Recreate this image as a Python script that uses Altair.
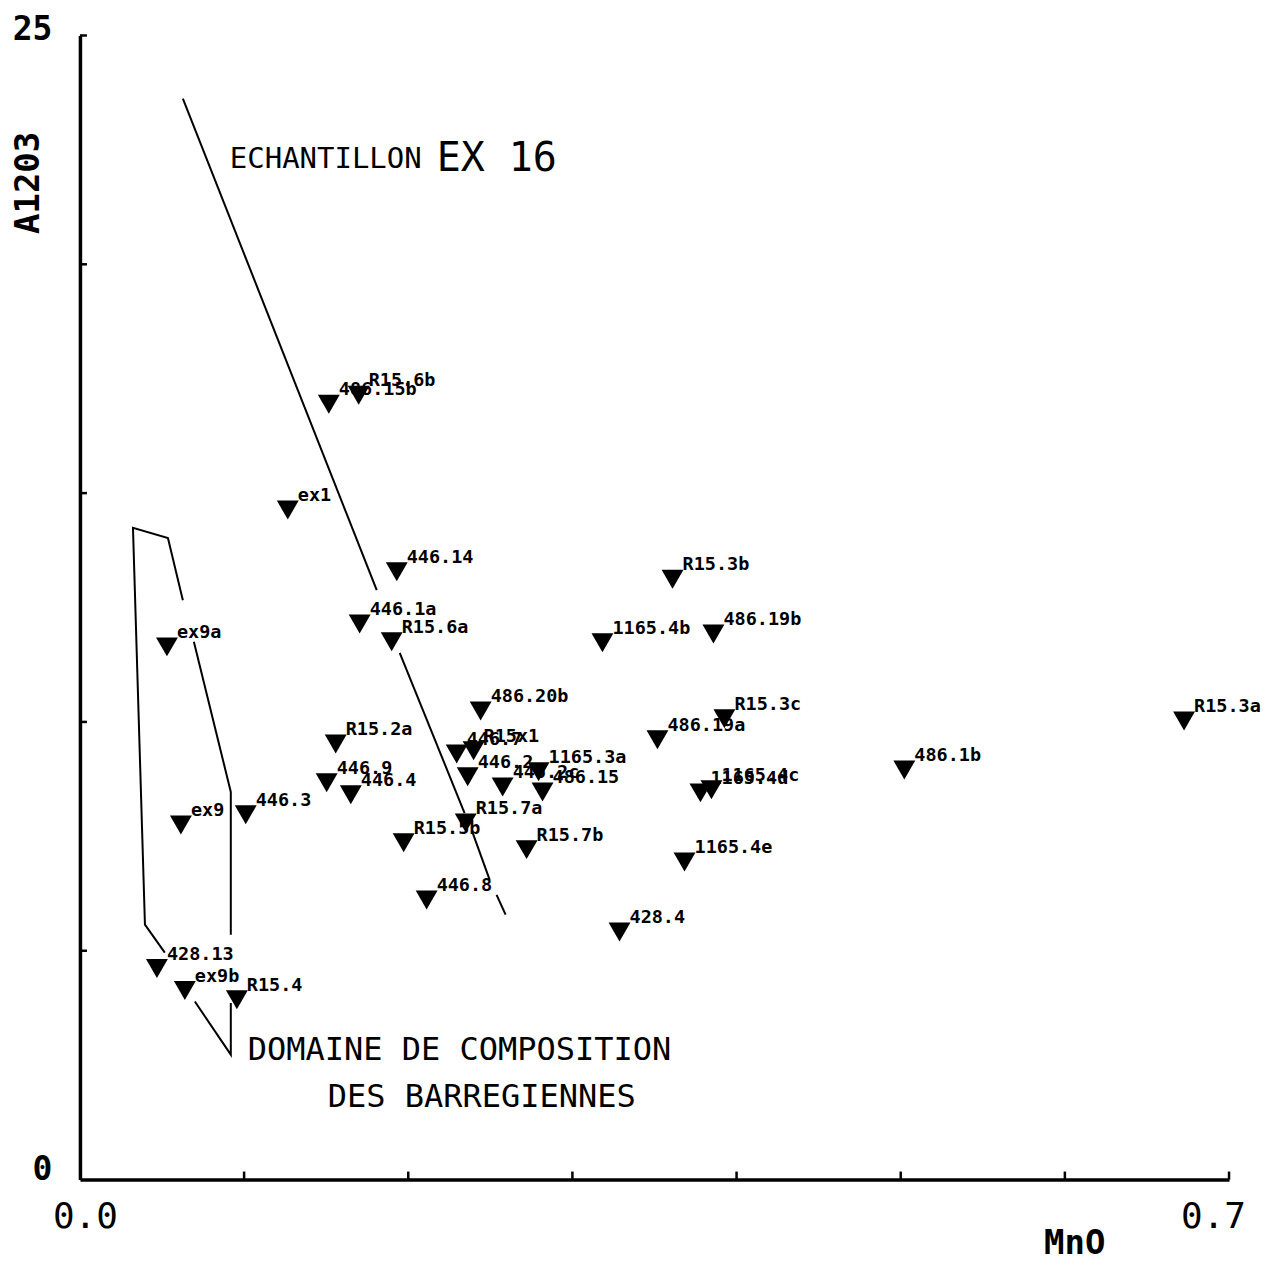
import altair as alt
import pandas as pd

# ---- sample points (MnO, Al2O3) ----
labels = ["486.15b", "R15.6b", "ex1", "446.14", "446.1a", "R15.6a", "ex9a", "ex9",
          "446.3", "R15.2a", "446.9", "446.4", "R15.5b", "446.8", "486.20b", "446.7",
          "R15x1", "446.2", "446.2c", "1165.3a", "486.15", "R15.7a", "R15.7b",
          "1165.4b", "R15.3b", "486.19b", "486.19a", "R15.3c", "1165.4d", "1165.4c",
          "1165.4e", "428.4", "486.1b", "R15.3a", "428.13", "ex9b", "R15.4"]
mno = [0.1516, 0.1698, 0.1266, 0.1930, 0.1704, 0.1899, 0.0530, 0.0615,
       0.1010, 0.1558, 0.1503, 0.1650, 0.1972, 0.2112, 0.2441, 0.2295,
       0.2398, 0.2362, 0.2575, 0.2794, 0.2818, 0.2350, 0.2721,
       0.3183, 0.3610, 0.3859, 0.3518, 0.3926, 0.3780, 0.3847,
       0.3683, 0.3287, 0.5022, 0.6726, 0.0469, 0.0639, 0.0956]
al2o3 = [16.94, 17.14, 14.63, 13.28, 12.14, 11.75, 11.64, 7.75,
         7.97, 9.52, 8.67, 8.41, 7.36, 6.11, 10.24, 9.30,
         9.37, 8.80, 8.58, 8.91, 8.47, 7.79, 7.21,
         11.73, 13.12, 11.92, 9.61, 10.07, 8.45, 8.52,
         6.94, 5.41, 8.95, 10.02, 4.61, 4.13, 3.93]

# ---- line of sample EX 16 (pen-up gaps kept as separate segments) ----
ex16_seg = [1, 1, 2, 2, 3, 3, 4, 4]
ex16_x = [0.0627, 0.1808, 0.1948, 0.2343, 0.2392, 0.2496, 0.2538, 0.2593]
ex16_y = [23.62, 12.88, 11.51, 8.01, 7.58, 6.55, 6.22, 5.79]

# ---- composition domain of the "barregiennes" ----
dom_seg = [1, 1, 1, 1, 1, 2, 2, 2, 3, 3, 3]
dom_x = [0.0517, 0.0396, 0.0323, 0.0536, 0.0627, 0.0694, 0.0919, 0.0919, 0.0919, 0.0919, 0.0700]
dom_y = [4.96, 5.57, 14.24, 14.02, 12.66, 11.75, 8.47, 5.35, 3.86, 2.73, 3.89]

# ---- annotations ----
ann_text = ["ECHANTILLON", "EX 16", "DOMAINE DE COMPOSITION", "DES BARREGIENNES"]
ann_x = [0.0913, 0.2173, 0.1023, 0.1510]
ann_y = [22.29, 22.31, 2.84, 1.81]
ann_fs = [29, 40, 32, 32]

# ---- axis ticks ----
x_ticks = [0.1, 0.2, 0.3, 0.4, 0.5, 0.6, 0.7]
y_ticks = [5, 10, 15, 20, 25]

W, H = 1150, 1145
MONO = "DejaVu Sans Mono"

pts = pd.DataFrame({"label": labels, "MnO": mno, "Al2O3": al2o3})
ex16 = pd.DataFrame({"seg": ex16_seg, "MnO": ex16_x, "Al2O3": ex16_y,
                     "ord": list(range(len(ex16_x)))})
dom = pd.DataFrame({"seg": dom_seg, "MnO": dom_x, "Al2O3": dom_y,
                    "ord": list(range(len(dom_x)))})
ann = pd.DataFrame({"text": ann_text, "MnO": ann_x, "Al2O3": ann_y, "fs": ann_fs})
xt = pd.DataFrame({"MnO": x_ticks})
yt = pd.DataFrame({"Al2O3": y_ticks})

xscale = alt.Scale(domain=[0, 0.7], nice=False, zero=False)
yscale = alt.Scale(domain=[0, 25], nice=False, zero=False)

xaxis = alt.Axis(values=[0, 0.7], format=".1f", title="MnO", grid=False, ticks=False,
                 labelFlush=False, labelFont=MONO, labelFontSize=36, labelColor="black",
                 labelPadding=20,
                 labelOffset={"condition": {"test": "datum.value > 0.5", "value": -16},
                              "value": 5},
                 domainColor="black", domainWidth=3.5,
                 titleFont=MONO, titleFontSize=34, titleFontWeight="bold", titleColor="black",
                 titleX=995, titleY=64, titleAlign="center", titleBaseline="middle")
yaxis = alt.Axis(values=[0, 25], format="d", title="A1203", grid=False, ticks=False,
                 labelFlush=False, labelFont=MONO, labelFontSize=33, labelFontWeight="bold",
                 labelColor="black", labelPadding=28, labelBaseline="alphabetic",
                 labelOffset={"condition": {"test": "datum.value > 20", "value": 4},
                              "value": 0},
                 domainColor="black", domainWidth=3.5,
                 titleFont=MONO, titleFontSize=34, titleFontWeight="bold", titleColor="black",
                 titleAngle=270, titleX=-51, titleY=147, titleAlign="center",
                 titleBaseline="middle")

X = alt.X("MnO:Q", scale=xscale, axis=xaxis)
Y = alt.Y("Al2O3:Q", scale=yscale, axis=yaxis)

markers = alt.Chart(pts).mark_point(shape="triangle-down", filled=True, size=480,
                                    color="black", opacity=1).encode(x=X, y=Y)
mlabels = alt.Chart(pts).mark_text(align="left", baseline="middle", dx=10, dy=-15,
                                   font=MONO, fontWeight="bold", fontSize=18.5,
                                   color="black").encode(x=X, y=Y, text="label:N")
ex16_line = alt.Chart(ex16).mark_line(color="black", strokeWidth=2).encode(
    x=X, y=Y, detail="seg:N", order="ord:Q")
dom_line = alt.Chart(dom).mark_line(color="black", strokeWidth=2).encode(
    x=X, y=Y, detail="seg:N", order="ord:Q")
ann_text_layer = alt.Chart(ann).mark_text(align="left", baseline="middle", font=MONO,
                                          color="black").encode(
    x=X, y=Y, text="text:N", size=alt.Size("fs:Q", scale=None, legend=None))
xtick_layer = alt.Chart(xt).mark_rule(color="black", strokeWidth=2.5).encode(
    x=X, y=alt.value(H), y2=alt.value(H - 8))
ytick_layer = alt.Chart(yt).mark_rule(color="black", strokeWidth=2.5).encode(
    y=Y, x=alt.value(0), x2=alt.value(7))

chart = alt.layer(dom_line, ex16_line, xtick_layer, ytick_layer, markers, mlabels,
                  ann_text_layer).properties(
    width=W, height=H,
    autosize=alt.AutoSizeParams(type="none"),
    padding={"left": 72, "top": 27, "right": 40, "bottom": 90},
    background="white",
).configure_view(stroke=None)

chart.save("out.html", embed_options={"renderer": "svg", "actions": False})
